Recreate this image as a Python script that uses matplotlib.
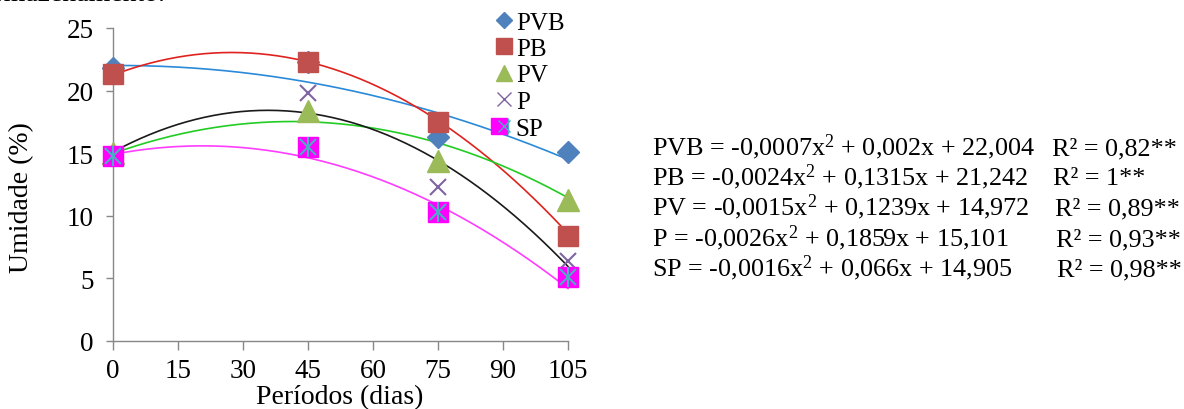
import numpy as np
import matplotlib
matplotlib.use("Agg")
import matplotlib.pyplot as plt
from matplotlib.lines import Line2D
from matplotlib.legend_handler import HandlerTuple

plt.rcParams['font.family'] = ['Liberation Serif', 'DejaVu Serif']
plt.rcParams['mathtext.fontset'] = 'custom'
plt.rcParams['mathtext.rm'] = 'Liberation Serif'
plt.rcParams['mathtext.it'] = 'Liberation Serif:italic'

# ---- data ----
days = [0, 45, 75, 105]
x_ticks = [0, 15, 30, 45, 60, 75, 90, 105]
y_ticks = [0, 5, 10, 15, 20, 25]

pvb = [21.8, 22.3, 16.3, 15.1]
pb = [21.3, 22.3, 17.5, 8.4]
pv = [15.0, 18.4, 14.4, 11.3]
p = [14.8, 19.8, 12.3, 6.4]
sp = [14.8, 15.5, 10.3, 5.1]

# quadratic trend coefficients (a, b, c) as printed on the chart
coef_pvb = [-0.0007, 0.002, 22.004]
coef_pb = [-0.0024, 0.1315, 21.242]
coef_pv = [-0.0015, 0.1239, 14.972]
coef_p = [-0.0026, 0.1859, 15.101]
coef_sp = [-0.0016, 0.066, 14.905]

eq_labels = [
    r"PVB = -0,0007x$^{2}$ + 0,002x + 22,004",
    r"PB = -0,0024x$^{2}$ + 0,1315x + 21,242",
    r"PV = -0,0015x$^{2}$ + 0,1239x + 14,972",
    r"P = -0,0026x$^{2}$ + 0,1859x + 15,101",
    r"SP = -0,0016x$^{2}$ + 0,066x + 14,905",
]
r2_labels = ["R² = 0,82**", "R² = 1**", "R² = 0,89**", "R² = 0,93**", "R² = 0,98**"]

# ---- figure ----
W, H = 1184, 410
fig = plt.figure(figsize=(W / 100, H / 100), dpi=100)
ax = fig.add_axes([113 / W, 1 - 342 / H, (568 - 113) / W, (342 - 29) / H])

xs = np.linspace(0, 105, 200)
trend_colors = ['#2a8ad8', '#e0221e', '#22cc22', '#1a1a1a', '#ff3dff']
for coef, col in zip([coef_pvb, coef_pb, coef_pv, coef_p, coef_sp], trend_colors):
    ax.plot(xs, np.polyval(coef, xs), color=col, lw=1.2, zorder=2, clip_on=False)

ax.plot(days, pvb, 'D', color='#4f81bd', ms=11, mec='#4f81bd', zorder=3, clip_on=False)
ax.plot(days, pb, 's', color='#c0504d', ms=15, mec='#c0504d', zorder=3, clip_on=False)
ax.plot(days, pv, '^', color='#9bbb59', ms=15.5, mec='#9bbb59', zorder=3, clip_on=False)
ax.plot(days, p, 'x', color='#8064a2', ms=12, mew=1.5, zorder=3, clip_on=False)
ax.plot(days, sp, 's', color='#ff00ff', ms=15, mec='#ff00ff', zorder=4, clip_on=False)
ax.plot(days, sp, 'x', color='#4bacc6', ms=12, mew=1.5, zorder=5, clip_on=False)
ax.plot(days, sp, '|', color='#4bacc6', ms=15, mew=1.5, zorder=5, clip_on=False)

ax.set_xlim(0, 105)
ax.set_ylim(0, 25)
ax.set_xticks(x_ticks)
ax.set_yticks(y_ticks)
ax.tick_params(axis='both', labelsize=19.5, color='#888888', direction='out', width=1)
ax.tick_params(axis='x', length=6.5, pad=6)
ax.tick_params(axis='y', length=5, pad=9)
for s in ['top', 'right']:
    ax.spines[s].set_visible(False)
for s in ['left', 'bottom']:
    ax.spines[s].set_color('#888888')
    ax.spines[s].set_linewidth(1)

# axis titles
fig.text(340 / W, 1 - 404 / H, 'Períodos (dias)', fontsize=20, ha='center', va='baseline')
fig.text(22 / W, 1 - 198 / H, 'Umidade (%)', fontsize=20, ha='center', va='center',
         rotation=90)

h_pvb = Line2D([], [], ls='', marker='D', color='#4f81bd', ms=8)
h_pb = Line2D([], [], ls='', marker='s', color='#c0504d', ms=11)
h_pv = Line2D([], [], ls='', marker='^', color='#9bbb59', ms=12)
h_p = Line2D([], [], ls='', marker='x', color='#8064a2', ms=10, mew=1)
h_sp1 = Line2D([], [], ls='', marker='s', color='#ff00ff', ms=11)
h_sp2 = Line2D([], [], ls='', marker='x', color='#4bacc6', ms=9, mew=1)
h_sp3 = Line2D([], [], ls='', marker='|', color='#4bacc6', ms=11, mew=1)
leg = fig.legend([h_pvb, h_pb, h_pv, h_p, (h_sp1, h_sp2, h_sp3)],
                 ['PVB', 'PB', 'PV', 'P', 'SP'],
                 handler_map={tuple: HandlerTuple(ndivide=None)},
                 loc='upper left', bbox_to_anchor=(497 / W, 1 - 12 / H),
                 frameon=False, fontsize=18, handlelength=0.55, handletextpad=0.2,
                 labelspacing=0.16, borderpad=0, borderaxespad=0)

# equations
eq_x = 652
r2_x = [1052, 1053, 1055, 1056, 1057]
base_y = [155, 185.5, 215.5, 246, 276]
for lab, r2, rx, by in zip(eq_labels, r2_labels, r2_x, base_y):
    fig.text(eq_x / W, 1 - by / H, lab, fontsize=18.8, va='baseline', ha='left')
    fig.text(rx / W, 1 - by / H, r2, fontsize=18.8, va='baseline', ha='left')

# cut-off caption line at top
fig.text(165 / W, 1 - 1 / H, 'armazenamento.', fontsize=20, va='baseline', ha='right')

fig.savefig('out.png', dpi=100)
